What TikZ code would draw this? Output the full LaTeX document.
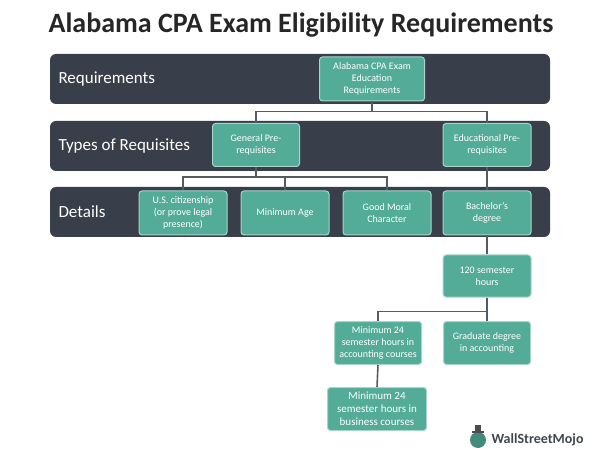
\documentclass[tikz,border=0pt]{standalone}
\usepackage{fontspec}
\setmainfont{Carlito}
\begin{document}
\begin{tikzpicture}[x=1pt,y=-1pt,
 band/.style={fill=bandc,rounded corners=6pt},
 box/.style={draw=boxb,line width=1pt,fill=boxc,rounded corners=3pt,text=white,align=center,font=\fontsize{10}{12}\selectfont,inner sep=1pt},
 lbl/.style={anchor=west,text=white,font=\fontsize{17}{20}\selectfont},
 con/.style={draw=linec,line width=1.6pt}]
\definecolor{bandc}{HTML}{383F4A}\definecolor{boxc}{HTML}{52AC98}\definecolor{boxb}{HTML}{A8D5C8}\definecolor{linec}{HTML}{555B63}
\useasboundingbox (0,0) rectangle (602,462);
\node[font=\bfseries\fontsize{28}{32}\selectfont,text=black!85] (title) at (301,25) {Alabama CPA Exam Eligibility Requirements};
\path[band] (50,54) rectangle (550,104);
\path[band] (50,121) rectangle (550,171);
\path[band] (50,187) rectangle (550,237);
\node[lbl] (l1) at (55,79) {Requirements};
\node[lbl] (l2) at (55,146) {Types of Requisites};
\node[lbl] (l3) at (55,212) {Details};
\node[box,minimum width=105pt,minimum height=44pt] (top) at (372,79) {Alabama CPA Exam\\Education\\Requirements};
\node[box,minimum width=87pt,minimum height=43pt] (gen) at (256,145) {General Pre-\\requisites};
\node[box,minimum width=88pt,minimum height=43pt] (edu) at (487,145) {Educational Pre-\\requisites};
\node[box,minimum width=88pt,minimum height=44pt] (us) at (183,213) {U.S. citizenship\\(or prove legal\\presence)};
\node[box,minimum width=88pt,minimum height=44pt] (age) at (285,213) {Minimum Age};
\node[box,minimum width=88pt,minimum height=44pt] (moral) at (387,213) {Good Moral\\Character};
\node[box,minimum width=88pt,minimum height=44pt] (bach) at (487,213) {Bachelor’s\\degree};
\node[box,minimum width=88pt,minimum height=42pt] (h120) at (487,276) {120 semester\\hours};
\node[box,minimum width=87pt,minimum height=43pt] (acc) at (378,343) {Minimum 24\\semester hours in\\accounting courses};
\node[box,minimum width=87pt,minimum height=43pt] (grad) at (487,343) {Graduate degree\\in accounting};
\node[box,minimum width=99pt,minimum height=43pt,font=\fontsize{11}{13}\selectfont] (bus) at (377,409) {Minimum 24\\semester hours in\\business courses};
\begin{scope}[on background layer/.style={}]
\end{scope}
\path[con] (top.south) -- ++(0,10) -| (gen.north);
\path[con] (top.south) ++(0,10) -| (edu.north);
\path[con] (gen.south) -- ++(0,10) -| (us.north);
\path[con] (gen.south) ++(0,10) -| (moral.north);
\path[con] (gen.south) ++(0,10) -| (age.north);
\path[con] (edu.south) -- (bach.north);
\path[con] (bach.south) -- (h120.north);
\path[con] (h120.south) -- ++(0,14) -| (acc.north);
\path[con] (h120.south) -- (grad.north);
\path[con] (acc.south) -- (bus.north);
% logo
\fill[boxc!80!black] (478,440) circle (8);
\fill[black!70] (472,431) rectangle (484,433);
\fill[black!70] (475,425) rectangle (481,432);
\node[anchor=west,font=\bfseries\fontsize{14}{16}\selectfont,text=black!80!cyan] (logo) at (488,440) {WallStreetMojo};
\end{tikzpicture}
\end{document}
